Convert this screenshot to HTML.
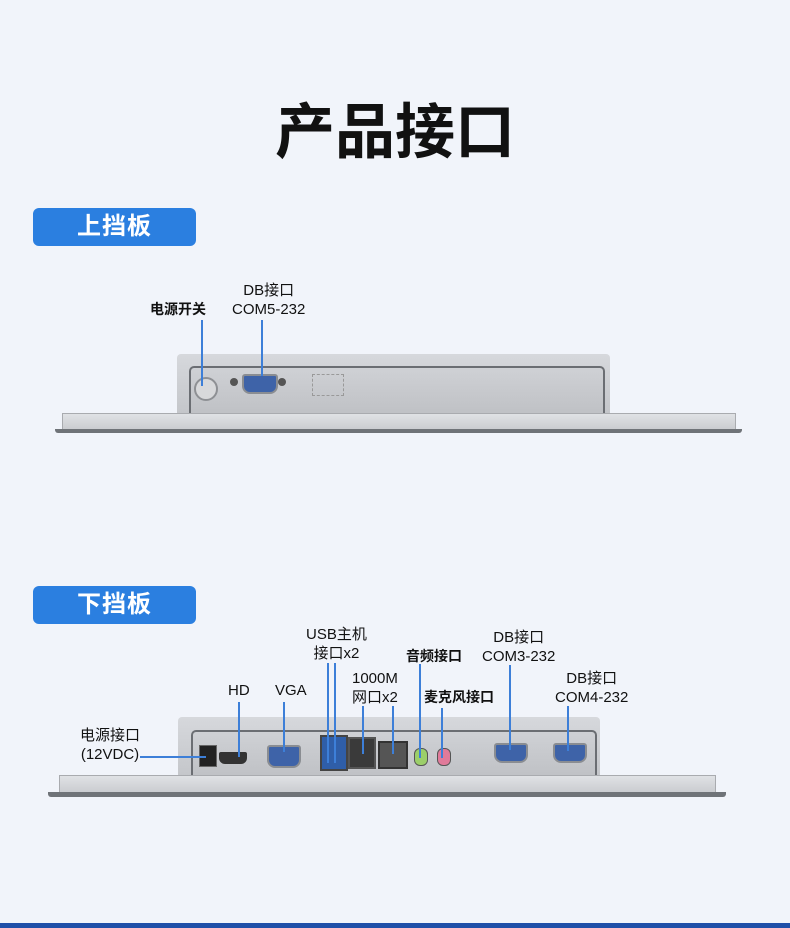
<!DOCTYPE html>
<html><head><meta charset="utf-8"><style>
body{margin:0;width:790px;height:928px;background:#f1f4fa;position:relative;overflow:hidden;font-family:"Liberation Sans","Noto Sans CJK SC",sans-serif;color:#222}
.a{position:absolute}
.t{position:absolute;font-size:15px;line-height:19px;text-align:center;white-space:nowrap;color:#111}
.tag{position:absolute;left:33px;width:163px;height:38px;background:#2b7fe0;border-radius:6px;color:#fff;font-size:24px;font-weight:bold;line-height:38px;text-align:center;letter-spacing:1px}
.v{position:absolute;width:2px;background:#3d7fd8;z-index:5}
.body{position:absolute;background:linear-gradient(#d6d8dc,#c4c6ca);border-radius:4px 4px 0 0}
.inner{position:absolute;background:linear-gradient(#cfd1d5,#bfc1c5);border:2px solid #6b6e73;border-bottom:none;border-radius:5px 5px 0 0}
.base{position:absolute;background:linear-gradient(#e0e2e5,#c9cbcf);border:1px solid #a9abaf}
.edge{position:absolute;background:#6f7378;border-radius:0 0 3px 3px}
.db{position:absolute;background:#3e63a8;border:2px solid #8a8d92;border-radius:3px 3px 8px 8px}
</style></head><body>
<div class="a" style="left:0;top:84px;width:790px;text-align:center;font-size:60px;font-weight:bold;color:#111">产品接口</div>

<div class="tag" style="top:208px">上挡板</div>
<div class="t" style="left:150px;top:300px;font-weight:bold;font-size:14px">电源开关</div>
<div class="t" style="left:232px;top:281px">DB接口<br>COM5-232</div>
<div class="v" style="left:201px;top:320px;height:66px"></div>
<div class="v" style="left:261px;top:320px;height:56px"></div>

<div class="body" style="left:177px;top:354px;width:433px;height:60px"></div>
<div class="inner" style="left:189px;top:366px;width:412px;height:46px"></div>
<div class="a" style="left:194px;top:377px;width:20px;height:20px;border-radius:50%;background:#d8d9db;border:2px solid #8e9094"></div>
<div class="db" style="left:242px;top:374px;width:32px;height:16px"></div>
<div class="a" style="left:230px;top:378px;width:8px;height:8px;border-radius:50%;background:#555"></div>
<div class="a" style="left:278px;top:378px;width:8px;height:8px;border-radius:50%;background:#555"></div>
<div class="a" style="left:312px;top:374px;width:30px;height:20px;border:1px dashed #999"></div>
<div class="base" style="left:62px;top:413px;width:672px;height:16px"></div>
<div class="edge" style="left:55px;top:429px;width:687px;height:4px"></div>

<div class="tag" style="top:586px">下挡板</div>
<div class="t" style="left:306px;top:625px">USB主机<br>接口x2</div>
<div class="t" style="left:352px;top:669px">1000M<br>网口x2</div>
<div class="t" style="left:406px;top:647px;font-weight:bold;font-size:14px">音频接口</div>
<div class="t" style="left:424px;top:688px;font-weight:bold;font-size:14px">麦克风接口</div>
<div class="t" style="left:482px;top:628px">DB接口<br>COM3-232</div>
<div class="t" style="left:555px;top:669px">DB接口<br>COM4-232</div>
<div class="t" style="left:228px;top:681px">HD</div>
<div class="t" style="left:275px;top:681px">VGA</div>
<div class="t" style="left:80px;top:726px;font-size:15px">电源接口<br>(12VDC)</div>
<div class="v" style="left:238px;top:702px;height:55px"></div>
<div class="v" style="left:283px;top:702px;height:50px"></div>
<div class="v" style="left:327px;top:663px;height:100px"></div>
<div class="v" style="left:334px;top:663px;height:100px"></div>
<div class="v" style="left:362px;top:706px;height:48px"></div>
<div class="v" style="left:392px;top:706px;height:48px"></div>
<div class="v" style="left:419px;top:664px;height:94px"></div>
<div class="v" style="left:441px;top:708px;height:50px"></div>
<div class="v" style="left:509px;top:665px;height:85px"></div>
<div class="v" style="left:567px;top:706px;height:45px"></div>
<div class="a" style="left:140px;top:756px;width:66px;height:2px;background:#3d7fd8;z-index:5"></div>

<div class="body" style="left:178px;top:717px;width:422px;height:60px"></div>
<div class="inner" style="left:191px;top:730px;width:402px;height:45px"></div>
<div class="a" style="left:199px;top:745px;width:16px;height:20px;background:#222;border:1px solid #666"></div>
<div class="a" style="left:219px;top:752px;width:28px;height:12px;background:#333;border-radius:2px 2px 6px 6px"></div>
<div class="db" style="left:267px;top:745px;width:30px;height:19px"></div>
<div class="a" style="left:320px;top:735px;width:24px;height:32px;background:#2f5ea8;border:2px solid #444"></div>
<div class="a" style="left:348px;top:737px;width:24px;height:28px;background:#3a3a3a;border:2px solid #555"></div>
<div class="a" style="left:378px;top:741px;width:26px;height:24px;background:#555;border:2px solid #333"></div>
<div class="a" style="left:414px;top:748px;width:12px;height:16px;border-radius:6px;background:#9ccf6a;border:1px solid #555"></div>
<div class="a" style="left:437px;top:748px;width:12px;height:16px;border-radius:6px;background:#e07a9a;border:1px solid #555"></div>
<div class="db" style="left:494px;top:743px;width:30px;height:16px"></div>
<div class="db" style="left:553px;top:743px;width:30px;height:16px"></div>
<div class="base" style="left:59px;top:775px;width:655px;height:17px"></div>
<div class="edge" style="left:48px;top:792px;width:678px;height:5px"></div>

<div class="a" style="left:0;top:923px;width:790px;height:5px;background:#1f4fa8"></div>
</body></html>
